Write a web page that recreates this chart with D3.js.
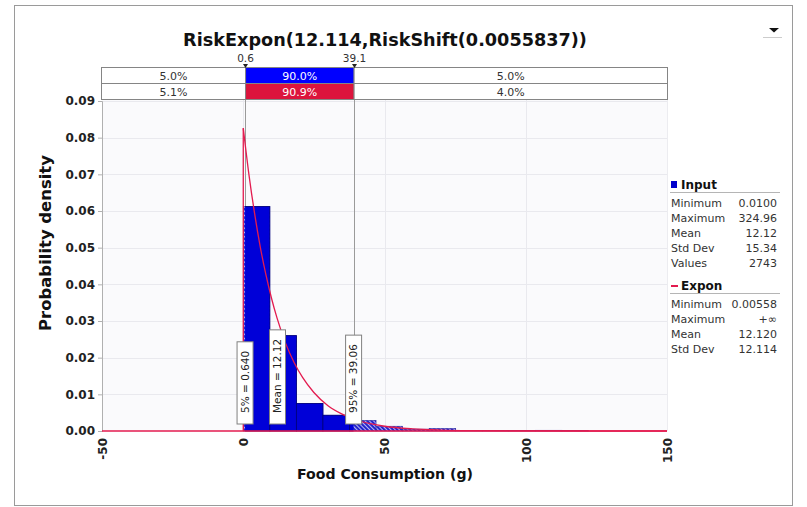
<!DOCTYPE html>
<html><head><meta charset="utf-8">
<script src="https://cdn.jsdelivr.net/npm/d3@7"></script>
<style>
html,body{margin:0;padding:0;background:#fff;}
svg{display:block;}
text{font-family:"DejaVu Sans",sans-serif;}
</style></head><body>
<svg id="chart" width="807" height="507"></svg>
<script>
// ---------------- data ----------------
const chartTitle = "RiskExpon(12.114,RiskShift(0.0055837))";
const xLabel = "Food Consumption (g)";
const yLabel = "Probability density";
const xTicks = [-50, 0, 50, 100, 150];
const xTickLabels = ["-50", "0", "50", "100", "150"];
const yTicks = [0, 0.01, 0.02, 0.03, 0.04, 0.05, 0.06, 0.07, 0.08, 0.09];
const yTickLabels = ["0.00","0.01","0.02","0.03","0.04","0.05","0.06","0.07","0.08","0.09"];
// histogram of the input data
const binLefts   = [0.01, 9.41, 18.81, 28.21, 37.61, 47.01, 56.41, 65.81, 75.21, 84.61, 94.01, 103.41, 112.81];
const binRights  = [9.41, 18.81, 28.21, 37.61, 47.01, 56.41, 65.81, 75.21, 84.61, 94.01, 103.41, 112.81, 122.21];
const binDensity = [0.0612, 0.0260, 0.0075, 0.0043, 0.0029, 0.0013, 0.0005, 0.0007, 0.0001, 0.0001, 0.0001, 0.0002, 0.0001];
// fitted Expon density
const fitX = [0.0056, 2, 4, 6, 8, 10, 12, 15, 18, 21, 25, 30, 35, 40, 45, 50, 60, 70, 80, 100, 150];
const fitY = [0.0826, 0.0700, 0.0594, 0.0503, 0.0427, 0.0362, 0.0307, 0.0239, 0.0187, 0.0146, 0.0105, 0.0069, 0.0046, 0.0030, 0.0020, 0.0013, 0.00058, 0.00026, 0.00011, 0.00002, 0.0];
const fitStart = 0.0056;
// delimiters and percentages
const delimiters = [0.64, 39.06];
const delimiterLabels = ["0.6", "39.1"];
const inputPercents = ["5.0%", "90.0%", "5.0%"];
const fitPercents = ["5.1%", "90.9%", "4.0%"];
// marker labels
const markerValues = [0.64, 12.12, 39.06];
const markerTexts = ["5% = 0.640", "Mean = 12.12", "95% = 39.06"];
// legend statistics
const inputName = "Input";
const inputStatNames = ["Minimum", "Maximum", "Mean", "Std Dev", "Values"];
const inputStatValues = ["0.0100", "324.96", "12.12", "15.34", "2743"];
const fitName = "Expon";
const fitStatNames = ["Minimum", "Maximum", "Mean", "Std Dev"];
const fitStatValues = ["0.00558", "+\u221E", "12.120", "12.114"];

// ---------------- layout ----------------
const svg = d3.select("#chart");
const PL = 102, PR = 667, PT = 100, PB = 431;
const x = d3.scaleLinear().domain([-50, 150]).range([PL, PR]);
const y = d3.scaleLinear().domain([0, 0.09]).range([PB, 101]);
const BLUE = "#0000d8", RED = "#e31b4f";

function fit(sel, target) {
  const w = sel.node().getComputedTextLength();
  const fs = parseFloat(sel.attr("font-size"));
  sel.attr("font-size", (fs * target / w).toFixed(2));
}

// outer frame
svg.append("rect").attr("x", 14.5).attr("y", 5.5).attr("width", 778).attr("height", 500)
  .attr("fill", "none").attr("stroke", "#9a9a9a");

// dropdown icon
svg.append("path").attr("d", "M769,28 L779,28 L774,32.5 Z").attr("fill", "#111");
svg.append("line").attr("x1", 763).attr("x2", 782).attr("y1", 37.5).attr("y2", 37.5).attr("stroke", "#ccc");

// title
const t = svg.append("text").attr("x", 385).attr("y", 46).attr("text-anchor", "middle")
  .attr("font-weight", "bold").attr("font-size", 18).attr("fill", "#111").text(chartTitle);
fit(t, 404);

// plot background
svg.append("rect").attr("x", PL).attr("y", PT).attr("width", PR - PL).attr("height", PB - PT)
  .attr("fill", "#fafafc");
svg.append("line").attr("x1", PR + 0.5).attr("x2", PR + 0.5).attr("y1", PT).attr("y2", PB).attr("stroke", "#ececf0");

// grid
svg.append("g").selectAll("line").data(yTicks.slice(1)).join("line")
  .attr("x1", PL).attr("x2", PR).attr("y1", d => Math.round(y(d)) + 0.5).attr("y2", d => Math.round(y(d)) + 0.5)
  .attr("stroke", "#e9e9ee");
svg.append("g").selectAll("line").data(xTicks.slice(1, -1)).join("line")
  .attr("y1", PT).attr("y2", PB).attr("x1", d => Math.round(x(d)) + 0.5).attr("x2", d => Math.round(x(d)) + 0.5)
  .attr("stroke", "#e9e9ee");

// y axis
const yAxis = d3.axisLeft(y).tickValues(yTicks).tickFormat((d, i) => yTickLabels[i]).tickSize(4).tickPadding(3);
const ya = svg.append("g").attr("transform", `translate(${PL},0)`).call(yAxis);
ya.select(".domain").attr("stroke", "#b0b0b0");
ya.selectAll(".tick line").attr("stroke", "#b0b0b0");
ya.selectAll(".tick text").attr("font-family", "DejaVu Sans").attr("font-weight", "bold")
  .attr("font-size", 12).attr("fill", "#222");

// x axis tick labels (rotated)
const xa = svg.append("g").attr("transform", `translate(0,${PB})`)
  .call(d3.axisBottom(x).tickValues(xTicks).tickFormat((d, i) => xTickLabels[i]).tickSize(0).tickPadding(0));
xa.select(".domain").remove();
xa.selectAll(".tick text")
  .attr("font-family", "DejaVu Sans").attr("font-weight", "bold").attr("font-size", 12).attr("fill", "#222")
  .attr("text-anchor", "end").attr("transform", "translate(0,7) rotate(-90)")
  .attr("x", 0).attr("y", 0).attr("dy", "0.36em");

// axis titles
const xl = svg.append("text").attr("x", 385).attr("y", 479).attr("text-anchor", "middle")
  .attr("font-weight", "bold").attr("font-size", 13).attr("fill", "#111").text(xLabel);
fit(xl, 176);
const yl = svg.append("text").attr("transform", "translate(51,243) rotate(-90)").attr("text-anchor", "middle")
  .attr("font-weight", "bold").attr("font-size", 15).attr("fill", "#111").text(yLabel);
fit(yl, 176);

// delimiter lines (behind bars)
svg.append("g").selectAll("line").data(delimiters).join("line")
  .attr("x1", d => Math.round(x(d)) + 0.5).attr("x2", d => Math.round(x(d)) + 0.5)
  .attr("y1", 67).attr("y2", 380).attr("stroke", "#9a9a9a");

// patterns / clips
const defs = svg.append("defs");
const pat = defs.append("pattern").attr("id", "hatch").attr("patternUnits", "userSpaceOnUse")
  .attr("width", 3).attr("height", 3).attr("patternTransform", "rotate(45)");
pat.append("rect").attr("width", 3).attr("height", 3).attr("fill", "#2424cc");
pat.append("line").attr("x1", 0).attr("x2", 3).attr("y1", 0.5).attr("y2", 0.5).attr("stroke", "#b9b9f2").attr("stroke-width", 1);
defs.append("clipPath").attr("id", "inside").append("rect")
  .attr("x", x(delimiters[0])).attr("y", 0).attr("width", x(delimiters[1]) - x(delimiters[0])).attr("height", 507);

// histogram bars
const bins = binLefts.map((l, i) => ({ x0: l, x1: binRights[i], d: binDensity[i] }));
svg.append("g").selectAll("rect").data(bins).join("rect")
  .attr("x", d => x(d.x0)).attr("width", d => x(d.x1) - x(d.x0))
  .attr("y", d => y(d.d)).attr("height", d => y(0) - y(d.d))
  .attr("fill", "url(#hatch)").attr("stroke", "#2a2aa0").attr("stroke-width", 0.6);
svg.append("g").attr("clip-path", "url(#inside)").selectAll("rect").data(bins).join("rect")
  .attr("x", d => x(d.x0)).attr("width", d => x(d.x1) - x(d.x0))
  .attr("y", d => y(d.d)).attr("height", d => y(0) - y(d.d))
  .attr("fill", BLUE).attr("stroke", "#00007a").attr("stroke-width", 0.8);

// fitted curve
svg.append("line").attr("x1", x(-50)).attr("x2", x(150)).attr("y1", y(0)).attr("y2", y(0))
  .attr("stroke", RED).attr("stroke-width", 1.5);
svg.append("line").attr("x1", x(fitStart)).attr("x2", x(fitStart)).attr("y1", y(0)).attr("y2", y(fitY[0]))
  .attr("stroke", RED).attr("stroke-width", 1.3);
const line = d3.line().x((d, i) => x(fitX[i])).y(d => y(d)).curve(d3.curveMonotoneX);
svg.append("path").attr("d", line(fitY)).attr("fill", "none").attr("stroke", RED).attr("stroke-width", 1.3);

// marker label boxes
markerValues.forEach((v, i) => {
  const g = svg.append("g").attr("transform", `translate(${x(v)},424) rotate(-90)`);
  const r = g.append("rect").attr("y", -8).attr("height", 16).attr("fill", "#fff").attr("stroke", "#808080");
  const tx = g.append("text").attr("x", 11).attr("y", 0).attr("dy", "0.36em")
    .attr("font-size", 10.5).attr("fill", "#222").text(markerTexts[i]);
  const w = tx.node().getComputedTextLength() + 20;
  r.attr("width", w);
});

// percentage rows
const cellEdges = [PL - 1, x(delimiters[0]), x(delimiters[1]), PR];
function drawRow(vals, y0, mid) {
  const g = svg.append("g");
  vals.forEach((v, i) => {
    g.append("rect").attr("x", cellEdges[i] + 0.5).attr("y", y0 + 0.5)
      .attr("width", cellEdges[i + 1] - cellEdges[i]).attr("height", 16)
      .attr("fill", i === 1 ? mid : "#fff").attr("stroke", "#858585");
    g.append("text").attr("x", (cellEdges[i] + cellEdges[i + 1]) / 2 + 0.5).attr("y", y0 + 12.5)
      .attr("text-anchor", "middle").attr("font-size", 11).attr("fill", i === 1 ? "#fff" : "#333").text(v);
  });
}
drawRow(inputPercents, 67, "#0000ff");
drawRow(fitPercents, 83, "#dc143c");
// delimiter ticks
delimiters.forEach((d, i) => {
  const px = Math.round(x(d)) + 0.5;
  svg.append("path").attr("d", `M${px - 2.5},64 L${px + 2.5},64 L${px},68 Z`).attr("fill", "#222");
  svg.append("text").attr("x", px).attr("y", 62).attr("text-anchor", "middle").attr("font-size", 10.5)
    .attr("fill", "#333").text(delimiterLabels[i]);
});

// legend panel
const LX = 671, VX = 777;
function legendBlock(name, names, vals, top, isLine) {
  if (isLine) {
    svg.append("line").attr("x1", LX).attr("x2", LX + 7).attr("y1", top - 4).attr("y2", top - 4)
      .attr("stroke", RED).attr("stroke-width", 2);
  } else {
    svg.append("rect").attr("x", LX).attr("y", top - 8).attr("width", 6).attr("height", 7).attr("fill", "#0000cc");
  }
  svg.append("text").attr("x", LX + 10).attr("y", top).attr("font-weight", "bold").attr("font-size", 12)
    .attr("fill", "#111").text(name);
  svg.append("line").attr("x1", LX - 1).attr("x2", 780).attr("y1", top + 3.5).attr("y2", top + 3.5).attr("stroke", "#b5b5b5");
  names.forEach((n, i) => {
    const yy = top + 18 + i * 15;
    svg.append("text").attr("x", LX).attr("y", yy).attr("font-size", 11).attr("fill", "#333").text(n);
    svg.append("text").attr("x", VX).attr("y", yy).attr("text-anchor", "end").attr("font-size", 11).attr("fill", "#333").text(vals[i]);
  });
}
legendBlock(inputName, inputStatNames, inputStatValues, 189, false);
legendBlock(fitName, fitStatNames, fitStatValues, 290, true);
</script>
</body></html>
